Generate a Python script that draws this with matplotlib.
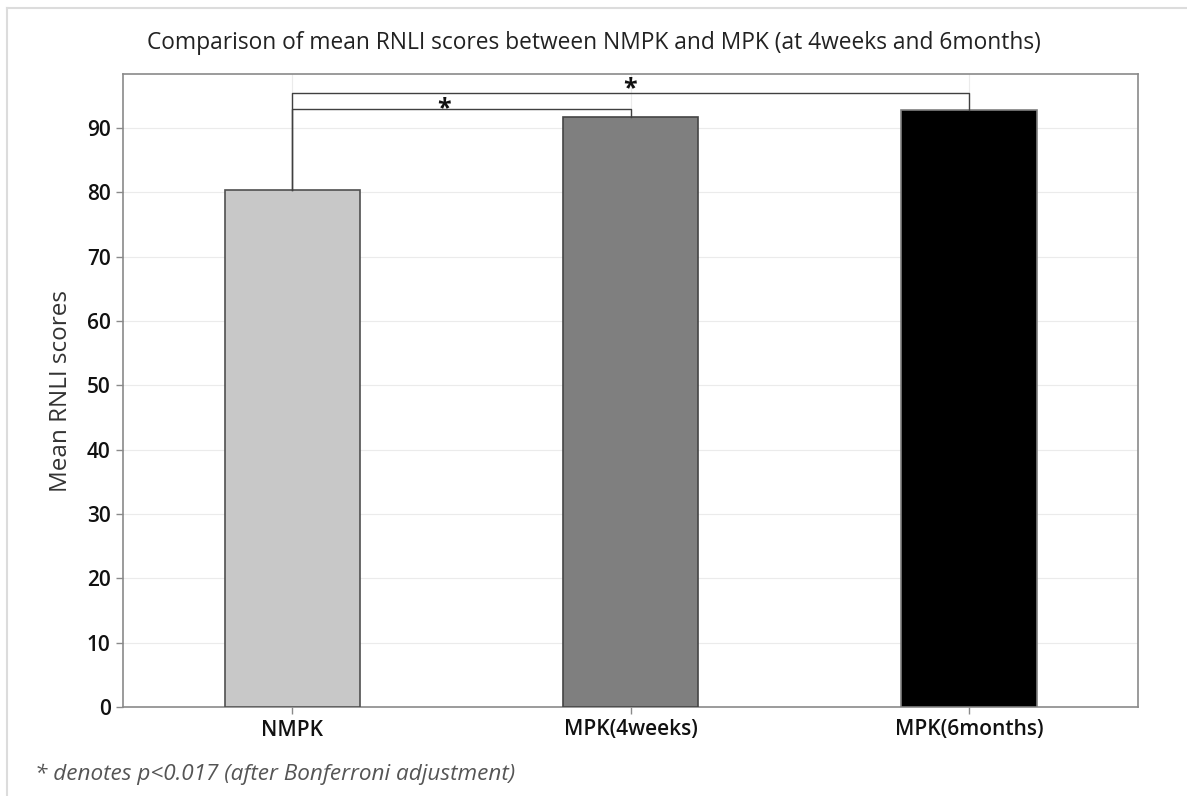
import matplotlib
matplotlib.use("Agg")
import matplotlib.pyplot as plt
from matplotlib.lines import Line2D

categories = ["NMPK", "MPK(4weeks)", "MPK(6months)"]
means = [80.3, 91.7, 92.8]
colors = ["#c8c8c8", "#7f7f7f", "#000000"]
edgecolors = ["#505050", "#454545", "#808080"]
yticks = [0, 10, 20, 30, 40, 50, 60, 70, 80, 90]
title = "Comparison of mean RNLI scores between NMPK and MPK (at 4weeks and 6months)"
ylabel = "Mean RNLI scores"
footnote = "* denotes p<0.017 (after Bonferroni adjustment)"
# significance brackets: (from index, to index, bracket height, star x, star y)
brackets = [(0, 1, 92.9, 0.45, 93.0), (0, 2, 95.4, 1.0, 96.1)]

plt.rcParams['font.family'] = ['Open Sans', 'DejaVu Sans']

fig = plt.figure(figsize=(11.87, 7.96), dpi=100)
ax = fig.add_axes([123/1187, 1 - 707/796, (1138-123)/1187, (707-74)/796])

x = list(range(len(categories)))
ax.bar(x, means, width=0.4, color=colors, edgecolor=edgecolors, linewidth=1.2, zorder=3)

ax.set_xlim(-0.5, 2.5)
ax.set_ylim(0, 98.4)
ax.set_yticks(yticks)
ax.set_xticks(x)
ax.set_xticklabels(categories, fontsize=15, fontweight='semibold', color='#111111')
for lab in ax.get_yticklabels():
    lab.set_fontsize(15)
    lab.set_fontweight('semibold')
    lab.set_color('#111111')
ax.grid(True, color='#ebebeb', linewidth=0.8, zorder=0)
ax.set_axisbelow(True)
for s in ax.spines.values():
    s.set_color('#8a8a8a')
    s.set_linewidth(1.2)
ax.tick_params(axis='both', length=5, color='#8a8a8a', width=1.0, pad=4)

ax.set_ylabel(ylabel, fontsize=17.5, color='#333333', labelpad=10)
fig.text(0.5, 1 - 43/796, title, ha='center', va='center', fontsize=16.4, color='#222222')
fig.text(35/1187, 1 - 774/796, footnote, ha='left', va='center', fontsize=16.2,
         style='italic', color='#555555')

for i, j, h, sx, sy in brackets:
    ax.plot([x[i], x[i], x[j], x[j]], [means[i], h, h, means[j]],
            color='#404040', linewidth=1.0, zorder=4, clip_on=False)
    ax.text(sx, sy, "*", ha='center', va='center', fontsize=18, fontweight='bold',
            color='#111111', zorder=5)

# faint outer frame
fig.add_artist(Line2D([7/1187, 1], [1 - 8/796, 1 - 8/796], transform=fig.transFigure,
                      color='#dcdcdc', linewidth=1.5))
fig.add_artist(Line2D([7/1187, 7/1187], [0, 1 - 8/796], transform=fig.transFigure,
                      color='#dcdcdc', linewidth=1.5))

fig.savefig("out.png", dpi=100)
